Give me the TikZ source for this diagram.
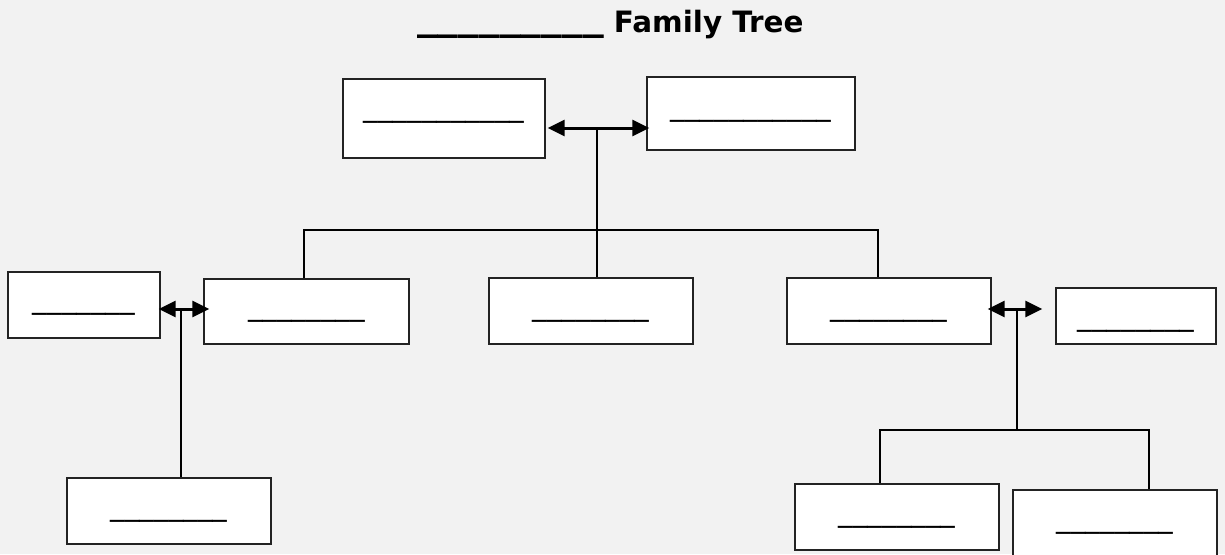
\documentclass[tikz,border=0pt]{standalone}
\usepackage{graphicx}
\usepackage{fontspec}
\setmainfont{DejaVu Sans}
\usetikzlibrary{arrows.meta,positioning,calc}
\definecolor{pagebg}{RGB}{242,242,242}
\definecolor{boxline}{RGB}{35,35,35}

\begin{document}
\begin{tikzpicture}[
  x=1pt, y=-1pt,
  member/.style={
    draw=boxline,
    fill=white,
    line width=1.4pt,
    inner sep=0pt,
    font=\fontsize{29.2}{30}\selectfont,
    minimum width=204pt,
    minimum height=66pt,
    text height=8pt,
    text depth=0pt
  },
  link/.style={line width=2pt},
  couple/.style={
    {Triangle[length=17pt,width=16pt]}-{Triangle[length=17pt,width=16pt]},
    line width=3pt
  }
]

  % Page
  \fill[pagebg] (0,0) rectangle (1225,554);
  \useasboundingbox (0,0) rectangle (1225,554);

  % Title
  \node[anchor=base west, inner sep=0pt, font=\fontsize{29.4}{30}\selectfont\bfseries] (title) at (417,32)
    {\raisebox{3pt}{\scalebox{1.41}[1.3]{\_\_\_\_\_\_\_\_\_}} Family Tree};

  % Grandparents
  \node[member, minimum width=202pt, minimum height=79pt, text height=0pt, text depth=5pt] (gp1) at (444,118.5) {\_\_\_\_\_\_\_\_\_\_\_};
  \node[member, minimum width=208pt, minimum height=73pt, text height=3pt] (gp2) at (751,113.5) {\_\_\_\_\_\_\_\_\_\_\_};

  % Children and their partners
  \node[member, minimum width=152pt, text height=6pt] (sp1) at (84,305) {\_\_\_\_\_\_\_};
  \node[member, minimum width=205pt, minimum height=65pt, text height=7pt] (ch1) at (306.5,311.5) {\_\_\_\_\_\_\_\_};
  \node[member] (ch2) at (591,311) {\_\_\_\_\_\_\_\_};
  \node[member] (ch3) at (889,311) {\_\_\_\_\_\_\_\_};
  \node[member, minimum width=160pt, minimum height=56pt, text height=18pt] (sp3) at (1136,316) {\_\_\_\_\_\_\_\_};

  % Grandchildren
  \node[member] (gc1) at (169,511) {\_\_\_\_\_\_\_\_};
  \node[member] (gc2) at (897,517) {\_\_\_\_\_\_\_\_};
  \node[member] (gc3) at (1115,523) {\_\_\_\_\_\_\_\_};

  % Couples
  \coordinate (m1) at (597,128);
  \coordinate (m2) at (181,309);
  \coordinate (m3) at (1017,309);
  \draw[couple] ([xshift=2pt]m1 -| gp1.east) -- ([xshift=3pt]m1 -| gp2.west);
  \draw[couple] ([xshift=-2pt]m2 -| sp1.east) -- ([xshift=6pt]m2 -| ch1.west);
  \draw[couple] ([xshift=-4pt]m3 -| ch3.east) -- ([xshift=-13pt]m3 -| sp3.west);

  % Descent lines
  \coordinate (barL) at (304,230);
  \coordinate (barR) at (878,230);
  \coordinate (forkL) at (880,430);
  \coordinate (forkR) at (1149,430);
  \draw[link] (m1) -- (m1 |- ch2.north);
  \draw[link] (barL |- ch1.north) -- (barL) -- (barR) -- (barR |- ch3.north);
  \draw[link] (m2) -- (m2 |- gc1.north);
  \draw[link] (m3) -- (m3 |- forkL);
  \draw[link] (forkL |- gc2.north) -- (forkL) -- (forkR) -- (forkR |- gc3.north);

\end{tikzpicture}
\end{document}
